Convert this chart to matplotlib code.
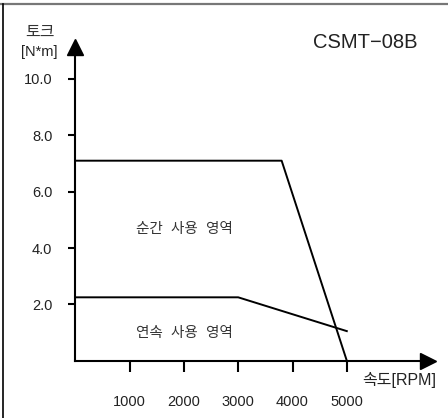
import matplotlib
matplotlib.use("Agg")
import matplotlib.pyplot as plt
from matplotlib.lines import Line2D

plt.rcParams['font.family'] = ['Liberation Sans', 'Noto Sans CJK KR', 'DejaVu Sans']

# speed [RPM] / torque [N*m]
peak_speed = [0, 3800, 5000]
peak_torque = [7.1, 7.1, 0.0]
cont_speed = [0, 3000, 5000]
cont_torque = [2.25, 2.25, 1.05]

xticks = [1000, 2000, 3000, 4000, 5000]
yticks = [2, 4, 6, 8, 10]
ytick_labels = ["2.0", "4.0", "6.0", "8.0", "10.0"]

W, H = 448, 418
fig = plt.figure(figsize=(W / 100, H / 100), dpi=100)
fig.patch.set_facecolor("white")

# axes box: origin at (75.3, 360.7) px from top-left
left, bottom, right, top = 75.3, 418 - 360.7, 428, 418 - 47
ax = fig.add_axes([left / W, bottom / H, (right - left) / W, (top - bottom) / H])
ax.set_xlim(0, (right - left) / 0.0543)
ax.set_ylim(0, (top - bottom) / 28.17)
ax.set_facecolor("none")

for s in ["top", "right"]:
    ax.spines[s].set_visible(False)
for s in ["left", "bottom"]:
    ax.spines[s].set_linewidth(1.5)
    ax.spines[s].set_color("black")

ax.plot(1, 0, ">", color="black", ms=11.5, transform=ax.get_yaxis_transform(), clip_on=False)
ax.plot(0, 1, "^", color="black", ms=11.5, transform=ax.get_xaxis_transform(), clip_on=False)

ax.set_xticks(xticks)
ax.set_xticklabels([str(v) for v in xticks])
ax.set_yticks(yticks)
ax.set_yticklabels(ytick_labels)
ax.tick_params(axis="x", direction="out", length=8, width=1.5, pad=17, labelsize=10.5, labelcolor="#222222")
ax.tick_params(axis="y", direction="out", length=5, width=1.5, pad=11.5, labelsize=10.5, labelcolor="#222222")

ax.plot(peak_speed, peak_torque, color="black", lw=1.4, clip_on=False)
ax.plot(cont_speed, cont_torque, color="black", lw=1.4, clip_on=False)

ax.text(2002, 4.68, "순간  사용  영역", ha="center", va="center", fontsize=10.5, color="#333333")
ax.text(2002, 0.98, "연속  사용  영역", ha="center", va="center", fontsize=10.5, color="#333333")

fig.text(365 / W, 1 - 42 / H, "CSMT\u221208B", ha="center", va="center", fontsize=14.5, color="#222222")
fig.text(40 / W, 1 - 32 / H, "토크", ha="center", va="center", fontsize=11.5, color="#333333")
fig.text(39.5 / W, 1 - 52 / H, "[N*m]", ha="center", va="center", fontsize=10.5, color="#222222")
fig.text(399.5 / W, 1 - 380 / H, "속도[RPM]", ha="center", va="center", fontsize=11.5, color="#222222")

# outer frame
fig.add_artist(Line2D([0, 1], [1 - 3.5 / H, 1 - 3.5 / H], color="#777777", lw=1.6, transform=fig.transFigure))
fig.add_artist(Line2D([3.3 / W, 3.3 / W], [0, 1 - 3.5 / H], color="black", lw=1.2, transform=fig.transFigure))

fig.savefig("out.png", dpi=100, facecolor="white")
